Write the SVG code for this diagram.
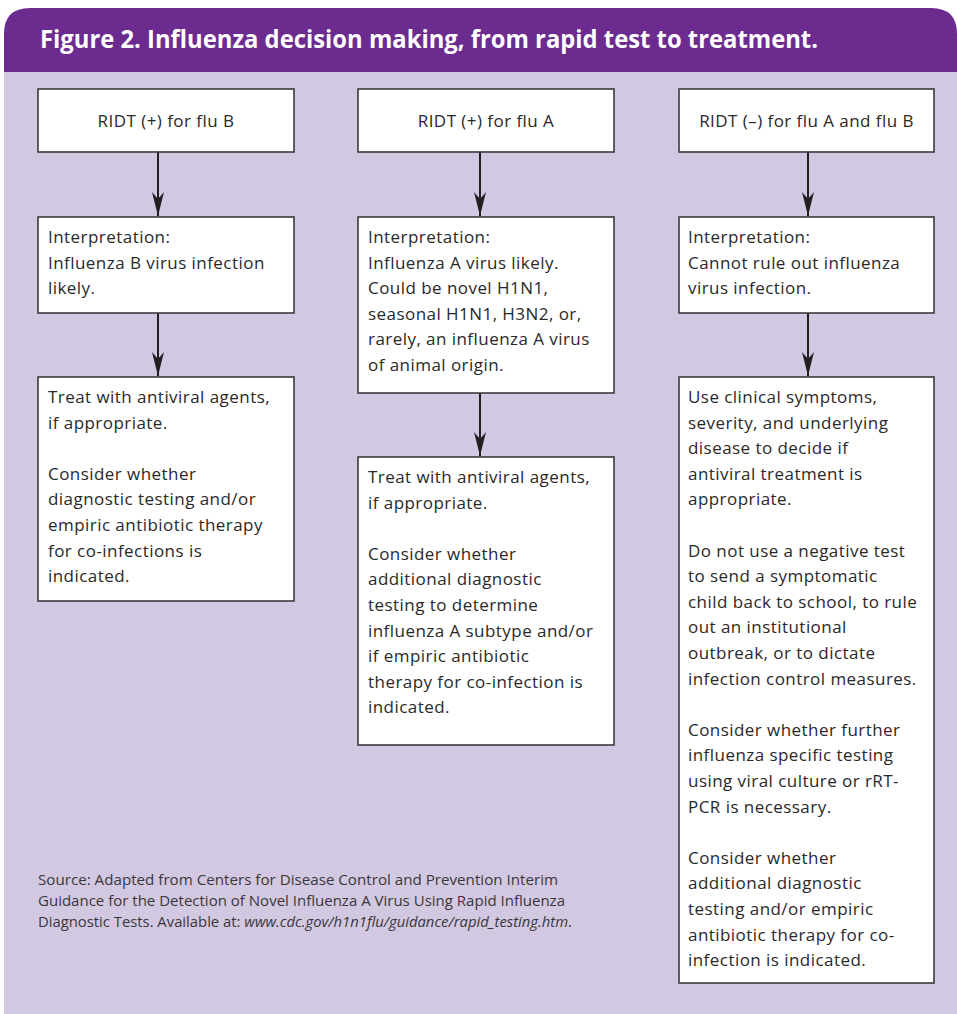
<svg xmlns="http://www.w3.org/2000/svg" width="957" height="1014" viewBox="0 0 957 1014">
<defs>
<style>
.bg{fill:#d3c8e2}
.hdr{fill:#6c2b8e}
.title{font-family:"Open Sans","Liberation Sans",sans-serif;font-weight:700;font-size:25px;fill:#ffffff}
.box{fill:#ffffff;stroke:#3d3a3c;stroke-width:1.6}
.t{font-family:"Open Sans","Liberation Sans",sans-serif;font-size:17px;letter-spacing:0.45px;fill:#2b2829}
.c{text-anchor:middle}
.src{font-family:"Open Sans","Liberation Sans",sans-serif;font-size:14px;fill:#3a3738}
.conn{stroke:#231f20;stroke-width:2;fill:none}
</style>
<marker id="ah" markerUnits="userSpaceOnUse" viewBox="0 0 24 12" markerWidth="24" markerHeight="12" refX="24" refY="6" orient="auto">
<path d="M0,0 L24,6 L0,12 L7,6 Z" fill="#231f20"/>
</marker>
</defs>
<rect class="bg" x="4" y="60" width="953" height="954"/>
<path class="hdr" d="M4,72 V34 Q4,8 30,8 H931 Q957,8 957,34 V72 Z"/>
<text class="title" x="40" y="48" textLength="778" lengthAdjust="spacingAndGlyphs">Figure 2. Influenza decision making, from rapid test to treatment.</text>

<g id="connectors">
<line class="conn" x1="158" y1="152" x2="158" y2="216" marker-end="url(#ah)"/>
<line class="conn" x1="158" y1="313" x2="158" y2="376" marker-end="url(#ah)"/>
<line class="conn" x1="480" y1="152" x2="480" y2="216" marker-end="url(#ah)"/>
<line class="conn" x1="480" y1="393" x2="480" y2="456" marker-end="url(#ah)"/>
<line class="conn" x1="808" y1="152" x2="808" y2="216" marker-end="url(#ah)"/>
<line class="conn" x1="808" y1="313" x2="808" y2="376" marker-end="url(#ah)"/>
</g>

<g id="b1">
<rect class="box" x="38" y="89" width="256" height="63"/>
<text class="t c" x="166" y="127">RIDT (+) for flu B</text>
</g>
<g id="b2">
<rect class="box" x="38" y="217" width="256" height="96"/>
<text class="t" x="48" y="243">Interpretation:<tspan x="48" dy="25.6">Influenza B virus infection</tspan><tspan x="48" dy="25.6">likely.</tspan></text>
</g>
<g id="b3">
<rect class="box" x="38" y="377" width="256" height="224"/>
<text class="t" x="48" y="403">Treat with antiviral agents,<tspan x="48" dy="25.6">if appropriate.</tspan><tspan x="48" dy="51.2">Consider whether</tspan><tspan x="48" dy="25.6">diagnostic testing and/or</tspan><tspan x="48" dy="25.6">empiric antibiotic therapy</tspan><tspan x="48" dy="25.6">for co-infections is</tspan><tspan x="48" dy="25.6">indicated.</tspan></text>
</g>

<g id="a1">
<rect class="box" x="358" y="89" width="256" height="63"/>
<text class="t c" x="486" y="127">RIDT (+) for flu A</text>
</g>
<g id="a2">
<rect class="box" x="358" y="217" width="256" height="176"/>
<text class="t" x="368" y="243">Interpretation:<tspan x="368" dy="25.6">Influenza A virus likely.</tspan><tspan x="368" dy="25.6">Could be novel H1N1,</tspan><tspan x="368" dy="25.6">seasonal H1N1, H3N2, or,</tspan><tspan x="368" dy="25.6">rarely, an influenza A virus</tspan><tspan x="368" dy="25.6">of animal origin.</tspan></text>
</g>
<g id="a3">
<rect class="box" x="358" y="457" width="256" height="288"/>
<text class="t" x="368" y="483">Treat with antiviral agents,<tspan x="368" dy="25.6">if appropriate.</tspan><tspan x="368" dy="51.2">Consider whether</tspan><tspan x="368" dy="25.6">additional diagnostic</tspan><tspan x="368" dy="25.6">testing to determine</tspan><tspan x="368" dy="25.6">influenza A subtype and/or</tspan><tspan x="368" dy="25.6">if empiric antibiotic</tspan><tspan x="368" dy="25.6">therapy for co-infection is</tspan><tspan x="368" dy="25.6">indicated.</tspan></text>
</g>

<g id="n1">
<rect class="box" x="679" y="89" width="255" height="63"/>
<text class="t c" x="806.5" y="127">RIDT (–) for flu A and flu B</text>
</g>
<g id="n2">
<rect class="box" x="679" y="217" width="255" height="96"/>
<text class="t" x="688" y="243">Interpretation:<tspan x="688" dy="25.6">Cannot rule out influenza</tspan><tspan x="688" dy="25.6">virus infection.</tspan></text>
</g>
<g id="n3">
<rect class="box" x="679" y="377" width="255" height="606"/>
<text class="t" x="688" y="403">Use clinical symptoms,<tspan x="688" dy="25.6">severity, and underlying</tspan><tspan x="688" dy="25.6">disease to decide if</tspan><tspan x="688" dy="25.6">antiviral treatment is</tspan><tspan x="688" dy="25.6">appropriate.</tspan><tspan x="688" dy="51.2">Do not use a negative test</tspan><tspan x="688" dy="25.6">to send a symptomatic</tspan><tspan x="688" dy="25.6">child back to school, to rule</tspan><tspan x="688" dy="25.6">out an institutional</tspan><tspan x="688" dy="25.6">outbreak, or to dictate</tspan><tspan x="688" dy="25.6">infection control measures.</tspan><tspan x="688" dy="51.2">Consider whether further</tspan><tspan x="688" dy="25.6">influenza specific testing</tspan><tspan x="688" dy="25.6">using viral culture or rRT-</tspan><tspan x="688" dy="25.6">PCR is necessary.</tspan><tspan x="688" dy="51.2">Consider whether</tspan><tspan x="688" dy="25.6">additional diagnostic</tspan><tspan x="688" dy="25.6">testing and/or empiric</tspan><tspan x="688" dy="25.6">antibiotic therapy for co-</tspan><tspan x="688" dy="25.6">infection is indicated.</tspan></text>
</g>

<g id="source">
<text class="src" x="38" y="885" textLength="520" lengthAdjust="spacingAndGlyphs">Source: Adapted from Centers for Disease Control and Prevention Interim</text>
<text class="src" x="38" y="906" textLength="527" lengthAdjust="spacingAndGlyphs">Guidance for the Detection of Novel Influenza A Virus Using Rapid Influenza</text>
<text class="src" x="38" y="927" textLength="534" lengthAdjust="spacingAndGlyphs">Diagnostic Tests. Available at: <tspan font-style="italic">www.cdc.gov/h1n1flu/guidance/rapid_testing.htm</tspan>.</text>
</g>
</svg>
